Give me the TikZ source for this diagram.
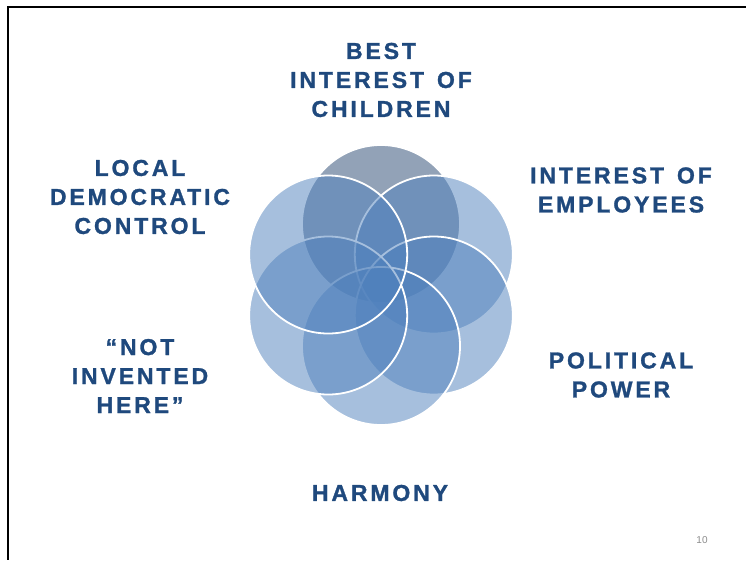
\documentclass[tikz,border=0pt]{standalone}
\usepackage{fontspec}
\setmainfont{Liberation Sans}
\newfontfamily\lbl[LetterSpace=12.5, WordSpace=1.4, FakeBold=1.2]{Liberation Sans}
\definecolor{txtblue}{RGB}{31,73,125}
\definecolor{petalblue}{RGB}{79,129,189}
\definecolor{petaldark}{RGB}{38,70,112}
\definecolor{pagegray}{RGB}{140,140,140}
\tikzset{
  petal/.style={circle, minimum size=158pt, inner sep=0pt, fill opacity=0.5, draw=white, draw opacity=1, line width=1.8pt},
  lab/.style={text=txtblue, align=center, font=\lbl\bfseries\fontsize{23}{29}\selectfont, inner sep=0pt}
}
\begin{document}
\begin{tikzpicture}[x=1pt,y=-1pt]
\useasboundingbox (0,0) rectangle (746,560);
\fill[white] (0,0) rectangle (746,560);
\draw[line width=2pt,black] (746,7) -- (8,7) -- (8,560);
% petals
\node[petal, fill=petaldark] (ptop) at (381,224) {};
\node[petal, fill=petalblue] (pur) at (433.8,254.5) {};
\node[petal, fill=petalblue] (plr) at (433.8,315.5) {};
\node[petal, fill=petalblue] (pbot) at (381,346) {};
\node[petal, fill=petalblue] (pll) at (328.2,315.5) {};
\node[petal, fill=petalblue] (pul) at (328.2,254.5) {};
% labels
\node[lab] (t1) at (381,80) {BEST\\INTEREST OF\\CHILDREN};
\node[lab] (t2) at (140,197) {LOCAL\\DEMOCRATIC\\CONTROL};
\node[lab] (t3) at (621,190) {INTEREST OF\\EMPLOYEES};
\node[lab] (t4) at (140,376) {“NOT\\INVENTED\\HERE”};
\node[lab] (t5) at (621,375) {POLITICAL\\POWER};
\node[lab] (t6) at (380,493) {HARMONY};
\node[text=pagegray, font=\fontsize{10}{12}\selectfont, inner sep=0pt] (pg) at (702,540) {10};
\end{tikzpicture}
\end{document}
